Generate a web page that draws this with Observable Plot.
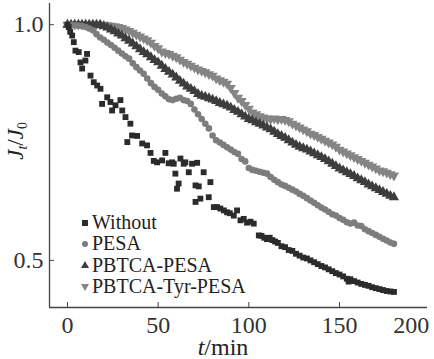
<!DOCTYPE html>
<html><head><meta charset="utf-8">
<script src="https://cdn.jsdelivr.net/npm/d3@7"></script>
<script src="https://cdn.jsdelivr.net/npm/@observablehq/plot@0.6"></script>
<style>
body{margin:0;background:#fff;}
#wrap{position:relative;width:434px;height:359px;font-family:'Liberation Serif',serif !important;color:#222;}
#wrap svg{display:block;}
#wrap svg text{font-family:'Liberation Serif',serif !important;}
.legend{position:absolute;left:78px;top:212px;font-size:20px;line-height:21.3px;font-family:'Liberation Serif',serif;}
.legend div{display:flex;align-items:center;white-space:nowrap;}
.legend svg{width:14px;height:12px;margin-right:0px;}
.xt{position:absolute;left:0;width:434px;top:337px;text-align:center;font-size:24px;line-height:20px;padding-left:6px;font-family:'Liberation Serif',serif;}
.yt{position:absolute;left:17px;top:141px;transform:translate(-50%,-50%) rotate(-90deg);font-size:23px;white-space:nowrap;font-family:'Liberation Serif',serif;}
sub{font-size:0.6em;vertical-align:-0.25em;}
</style></head><body><div id="wrap"></div>
<script>
const seriesNames = ["Without", "PESA", "PBTCA-PESA", "PBTCA-Tyr-PESA"];
const seriesColors = ["#2b2b2b", "#7d7d7d", "#3d3d3d", "#858585"];
const xTicks = [0, 50, 100, 150];
const xLastTick = [200];
const yTicks = [0.5, 1.0];

// smooth series sampled every 2 min, 0..180
const smoothT = d3.range(0, 181, 2);
const tyrV = [1,1,1,1,1,1,1,1,1,1,1,
 0.999,0.998,0.997,0.995,0.993,0.990,0.987,0.983,0.979,0.975,0.971,0.967,0.962,0.955,0.950,
 0.943,0.940,0.938,0.934,0.931,0.926,0.921,0.917,0.913,0.909,0.905,0.902,0.899,0.895,0.892,
 0.886,0.882,0.879,0.875,0.866,0.855,0.845,0.838,0.830,0.822,0.814,0.810,0.806,0.803,0.801,
 0.800,0.801,0.799,0.800,0.798,0.795,0.790,0.786,0.782,0.778,0.774,0.769,0.766,0.762,0.758,
 0.754,0.750,0.746,0.741,0.735,0.731,0.727,0.723,0.719,0.715,0.711,0.707,0.703,0.699,0.695,
 0.691,0.689,0.686,0.683,0.680];
const pbtcaV = [1,1,1,1,1,1,1,1,1,1,
 0.997,0.994,0.990,0.986,0.981,0.977,0.971,0.966,0.960,0.954,0.948,0.942,0.937,0.931,0.925,0.920,
 0.913,0.906,0.900,0.894,0.888,0.881,0.875,0.869,0.864,0.859,0.853,0.849,0.847,0.844,0.841,
 0.838,0.834,0.831,0.828,0.824,0.819,0.815,0.810,0.805,0.800,0.797,0.793,0.790,0.786,0.782,
 0.778,0.773,0.768,0.764,0.760,0.755,0.750,0.745,0.741,0.738,0.735,0.731,0.727,0.723,0.719,
 0.715,0.710,0.705,0.700,0.695,0.691,0.687,0.683,0.679,0.674,0.670,0.666,0.661,0.657,0.653,
 0.649,0.645,0.641,0.637,0.634];
const pesaV = [1,1,0.999,0.998,0.997,0.995,0.992,0.988,0.980,0.973,0.968,
 0.962,0.957,0.951,0.945,0.939,0.933,0.928,0.918,0.910,0.903,0.896,0.886,0.876,0.868,0.862,
 0.854,0.848,0.842,0.840,0.843,0.845,0.840,0.838,0.832,0.820,0.810,0.800,0.790,0.780,0.765,
 0.755,0.750,0.745,0.740,0.735,0.730,0.726,0.715,0.710,0.696,0.692,0.690,0.688,0.686,0.684,
 0.677,0.671,0.666,0.661,0.658,0.654,0.650,0.646,0.641,0.637,0.632,0.627,0.622,0.617,0.612,
 0.608,0.603,0.598,0.595,0.590,0.586,0.581,0.578,0.580,0.574,0.573,0.566,0.562,0.558,0.554,
 0.550,0.546,0.542,0.538,0.535];

// "Without" is scattered: individual readings
const withoutT = [0,0.7,1.5,2.6,3.5,4.4,6.2,7.2,8.1,9.9,10.8,12.7,14.5,16.4,18.2,19.1,21.9,23.7,24.6,26.5,29.2,30.2,32,33,34.7,35.6,38.4,41.2,43.9,45.8,47.6,49.4,52.2,54,55.8,57.7,58.6,59.5,60.4,61.3,62.3,64.1,65,66.9,68.7,70.6,70.6,71.5,72.4,73.3,75.1,77.9,78.8,80.7,82.5,84.3,86.2,88,89.5,91.7,93.5,95.4,97.2,99,100.9,102.7,105.5,107,108.5,110,111.5,113,114.5,116,118,120,122,124,126,128,130,132,134,136,138,140,142,144,146,148,150,152,154,155,156,158,160,162,164,166,168,170,172,174,176,178,180];
const withoutV = [1,0.995,0.985,0.977,0.963,0.945,0.942,0.920,0.907,0.924,0.938,0.892,0.878,0.871,0.864,0.832,0.846,0.836,0.818,0.829,0.840,0.818,0.804,0.751,0.790,0.765,0.764,0.748,0.744,0.728,0.711,0.708,0.712,0.728,0.706,0.708,0.705,0.684,0.652,0.663,0.716,0.705,0.708,0.687,0.705,0.659,0.624,0.707,0.657,0.631,0.687,0.634,0.666,0.613,0.613,0.610,0.606,0.602,0.600,0.595,0.606,0.585,0.588,0.580,0.582,0.578,0.553,0.552,0.548,0.545,0.548,0.543,0.540,0.537,0.530,0.528,0.522,0.520,0.514,0.510,0.506,0.504,0.500,0.496,0.492,0.488,0.485,0.481,0.477,0.473,0.470,0.466,0.461,0.455,0.460,0.456,0.453,0.450,0.448,0.446,0.443,0.441,0.439,0.437,0.435,0.434,0.433];

const xDomain = [-9.9, 198.5];
const yDomain = [0.400, 1.045];

const mk = (T, V) => T.map((t, i) => ({t, v: V[i]}));
const dWithout = mk(withoutT, withoutV);
const dPesa = mk(smoothT, pesaV);
const dPbtca = mk(smoothT, pbtcaV);
const dTyr = mk(smoothT, tyrV);

const font = "'Liberation Serif', serif";
const chart = Plot.plot({
  width: 434, height: 359,
  marginLeft: 49, marginRight: 7, marginTop: 3, marginBottom: 52,
  style: {fontFamily: font, background: "#fff", color: "#333"},
  x: {domain: xDomain},
  y: {domain: yDomain},
  marks: [
    Plot.ruleX([xDomain[0]], {stroke: "#444", strokeWidth: 1.3}),
    Plot.ruleY([yDomain[0]], {stroke: "#444", strokeWidth: 1.3}),
    Plot.axisX({ticks: xTicks, tickSize: -5, tickPadding: 13, fontSize: 24, fontFamily: font, tickFormat: d => String(d), label: null, stroke: "#444"}),
    Plot.axisX({ticks: xLastTick, tickSize: 0, tickPadding: 8, dx: -19, fontSize: 24, fontFamily: font, tickFormat: d => String(d), label: null}),
    Plot.axisY({ticks: yTicks, tickSize: -5, tickPadding: 11, fontSize: 24, fontFamily: font, tickFormat: d3.format(".1f"), label: null, stroke: "#444"}),
    Plot.dot(dTyr, {x: "t", y: "v", symbol: "triangle", rotate: 180, r: 3.8, fill: seriesColors[3], stroke: "none"}),
    Plot.dot(dPbtca, {x: "t", y: "v", symbol: "triangle", r: 3.8, fill: seriesColors[2], stroke: "none"}),
    Plot.dot(dPesa, {x: "t", y: "v", symbol: "circle", r: 3.3, fill: seriesColors[1], stroke: "none"}),
    Plot.dot(dWithout, {x: "t", y: "v", symbol: "square", r: 3.3, fill: seriesColors[0], stroke: "none"})
  ]
});
const wrap = document.getElementById("wrap");
wrap.appendChild(chart);

const symPaths = [
  '<rect x="4" y="3" width="6" height="6"/>',
  '<circle cx="7" cy="6" r="3"/>',
  '<path d="M7,2 L11,9 L3,9 Z"/>',
  '<path d="M7,10 L11,3 L3,3 Z"/>'
];
const leg = document.createElement("div");
leg.className = "legend";
leg.innerHTML = seriesNames.map((n, i) =>
  `<div><svg viewBox="0 0 14 12"><g fill="${seriesColors[i]}">${symPaths[i]}</g></svg>${n}</div>`).join("");
wrap.appendChild(leg);

const xt = document.createElement("div");
xt.className = "xt";
xt.innerHTML = "<i>t</i>/min";
wrap.appendChild(xt);
const yt = document.createElement("div");
yt.className = "yt";
yt.innerHTML = "<i>J</i><sub><i>t</i></sub>/<i>J</i><sub>0</sub>";
wrap.appendChild(yt);
</script>
</body></html>
